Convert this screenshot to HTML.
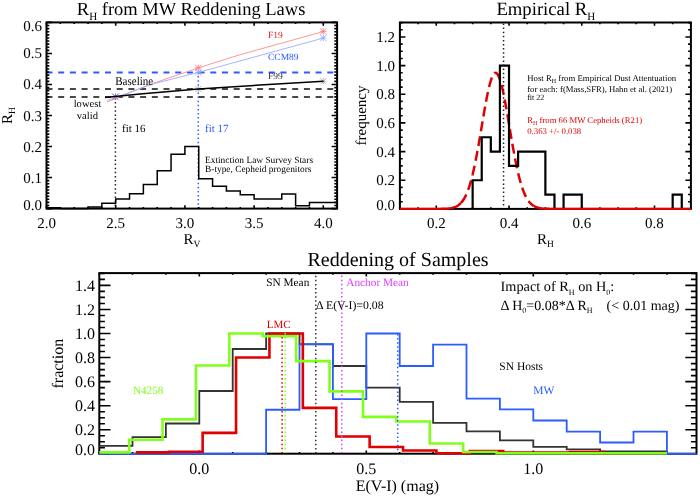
<!DOCTYPE html>
<html><head><meta charset="utf-8"><style>
html,body{margin:0;padding:0;background:#fff;}
svg{display:block;filter:blur(0.35px);}
text{font-family:"Liberation Serif", serif;text-rendering:geometricPrecision;}
</style></head><body>
<svg width="700" height="496" viewBox="0 0 700 496">
<rect width="700" height="496" fill="#fff"/>
<line x1="46.5" y1="72.38" x2="337.1" y2="72.38" stroke="#2a5cff" stroke-width="2" stroke-dasharray="6 5.7"/>
<line x1="46.5" y1="88.9" x2="337.1" y2="88.9" stroke="#484848" stroke-width="2" stroke-dasharray="6 5.7"/>
<line x1="46.5" y1="97.1" x2="337.1" y2="97.1" stroke="#484848" stroke-width="2" stroke-dasharray="6 5.7"/>
<line x1="115.4" y1="98" x2="115.4" y2="208" stroke="#222" stroke-width="1.5" stroke-dasharray="1.5 2.6"/>
<line x1="198.3" y1="72" x2="198.3" y2="208" stroke="#2a5cff" stroke-width="1.5" stroke-dasharray="1.5 2.6"/>
<path d="M112.1 93.5L118.7 100.1M112.1 100.1L118.7 93.5M115.4 93.5V100.1M112.1 96.8H118.7" stroke="#3050e0" stroke-width="0.8" opacity="1" fill="none"/>
<path d="M112.4 93.8L118.4 99.8M112.4 99.8L118.4 93.8M115.4 93.8V99.8M112.4 96.8H118.4" stroke="#ff6070" stroke-width="0.6" opacity="0.5" fill="none"/>
<path d="M195.1 64.6L201.5 71M195.1 71L201.5 64.6M198.3 64.6V71M195.1 67.8H201.5" stroke="#ff6060" stroke-width="0.7" opacity="1" fill="none"/>
<path d="M195.1 69.2L201.5 75.6M195.1 75.6L201.5 69.2M198.3 69.2V75.6M195.1 72.4H201.5" stroke="#7f9cff" stroke-width="0.7" opacity="1" fill="none"/>
<path d="M195.1 85.9L201.5 92.3M195.1 92.3L201.5 85.9M198.3 85.9V92.3M195.1 89.1H201.5" stroke="#999" stroke-width="0.7" opacity="1" fill="none"/>
<path d="M320.1 28.2L326.5 34.6M320.1 34.6L326.5 28.2M323.3 28.2V34.6M320.1 31.4H326.5" stroke="#ff6060" stroke-width="0.7" opacity="1" fill="none"/>
<path d="M320.1 34.8L326.5 41.2M320.1 41.2L326.5 34.8M323.3 34.8V41.2M320.1 38H326.5" stroke="#7f9cff" stroke-width="0.7" opacity="1" fill="none"/>
<path d="M320.1 78.1L326.5 84.5M320.1 84.5L326.5 78.1M323.3 78.1V84.5M320.1 81.3H326.5" stroke="#999" stroke-width="0.7" opacity="1" fill="none"/>
<polyline points="106.9,102.1 140,88.4 151,84.1 198.3,67.9 240,54.7 323.5,31.5" fill="none" stroke="#ff8a8a" stroke-width="0.9" />
<polyline points="106.9,100.6 140,88.6 151,84.4 198.3,72.4 323.5,38" fill="none" stroke="#98adff" stroke-width="0.9" />
<polyline points="105.1,97.4 140,93.9 198.3,89.1 260,85 323.5,81.3" fill="none" stroke="#000" stroke-width="1.5" />
<polyline points="46.5,207.67 60.34,207.67 60.34,208.6 74.18,208.6 74.18,208.6 88.02,208.6 88.02,207.05 101.86,207.05 101.86,203.32 115.7,203.32 115.7,198.98 129.54,198.98 129.54,193.71 143.38,193.71 143.38,184.4 157.22,184.4 157.22,170.74 171.06,170.74 171.06,154.3 184.9,154.3 184.9,146.54 198.74,146.54 198.74,178.81 212.58,178.81 212.58,186.26 226.42,186.26 226.42,190.91 240.26,190.91 240.26,194.64 254.1,194.64 254.1,198.98 267.94,198.98 267.94,198.98 281.78,198.98 281.78,194.02 295.62,194.02 295.62,205.81 309.46,205.81 309.46,202.39 323.3,202.39 323.3,202.39 337.14,202.39 337.1,202.39" fill="none" stroke="#000" stroke-width="1.5" />
<rect x="46.5" y="22.4" width="290.6" height="186.2" fill="none" stroke="#000" stroke-width="2"/>
<path d="M46.5 208.6v-3.3M46.5 22.4v3.3M115.7 208.6v-3.3M115.7 22.4v3.3M184.9 208.6v-3.3M184.9 22.4v3.3M254.1 208.6v-3.3M254.1 22.4v3.3M323.3 208.6v-3.3M323.3 22.4v3.3M60.34 208.6v-1.7M60.34 22.4v1.7M74.18 208.6v-1.7M74.18 22.4v1.7M88.02 208.6v-1.7M88.02 22.4v1.7M101.86 208.6v-1.7M101.86 22.4v1.7M129.54 208.6v-1.7M129.54 22.4v1.7M143.38 208.6v-1.7M143.38 22.4v1.7M157.22 208.6v-1.7M157.22 22.4v1.7M171.06 208.6v-1.7M171.06 22.4v1.7M198.74 208.6v-1.7M198.74 22.4v1.7M212.58 208.6v-1.7M212.58 22.4v1.7M226.42 208.6v-1.7M226.42 22.4v1.7M240.26 208.6v-1.7M240.26 22.4v1.7M267.94 208.6v-1.7M267.94 22.4v1.7M281.78 208.6v-1.7M281.78 22.4v1.7M295.62 208.6v-1.7M295.62 22.4v1.7M309.46 208.6v-1.7M309.46 22.4v1.7M337.14 208.6v-1.7M337.14 22.4v1.7M46.5 208.6h5.5M337.1 208.6h-5.5M46.5 177.57h5.5M337.1 177.57h-5.5M46.5 146.54h5.5M337.1 146.54h-5.5M46.5 115.51h5.5M337.1 115.51h-5.5M46.5 84.48h5.5M337.1 84.48h-5.5M46.5 53.45h5.5M337.1 53.45h-5.5M46.5 22.42h5.5M337.1 22.42h-5.5M46.5 205.5h2.8M337.1 205.5h-2.8M46.5 202.39h2.8M337.1 202.39h-2.8M46.5 199.29h2.8M337.1 199.29h-2.8M46.5 196.19h2.8M337.1 196.19h-2.8M46.5 193.08h2.8M337.1 193.08h-2.8M46.5 189.98h2.8M337.1 189.98h-2.8M46.5 186.88h2.8M337.1 186.88h-2.8M46.5 183.78h2.8M337.1 183.78h-2.8M46.5 180.67h2.8M337.1 180.67h-2.8M46.5 174.47h2.8M337.1 174.47h-2.8M46.5 171.36h2.8M337.1 171.36h-2.8M46.5 168.26h2.8M337.1 168.26h-2.8M46.5 165.16h2.8M337.1 165.16h-2.8M46.5 162.06h2.8M337.1 162.06h-2.8M46.5 158.95h2.8M337.1 158.95h-2.8M46.5 155.85h2.8M337.1 155.85h-2.8M46.5 152.75h2.8M337.1 152.75h-2.8M46.5 149.64h2.8M337.1 149.64h-2.8M46.5 143.44h2.8M337.1 143.44h-2.8M46.5 140.33h2.8M337.1 140.33h-2.8M46.5 137.23h2.8M337.1 137.23h-2.8M46.5 134.13h2.8M337.1 134.13h-2.8M46.5 131.02h2.8M337.1 131.02h-2.8M46.5 127.92h2.8M337.1 127.92h-2.8M46.5 124.82h2.8M337.1 124.82h-2.8M46.5 121.72h2.8M337.1 121.72h-2.8M46.5 118.61h2.8M337.1 118.61h-2.8M46.5 112.41h2.8M337.1 112.41h-2.8M46.5 109.3h2.8M337.1 109.3h-2.8M46.5 106.2h2.8M337.1 106.2h-2.8M46.5 103.1h2.8M337.1 103.1h-2.8M46.5 99.99h2.8M337.1 99.99h-2.8M46.5 96.89h2.8M337.1 96.89h-2.8M46.5 93.79h2.8M337.1 93.79h-2.8M46.5 90.69h2.8M337.1 90.69h-2.8M46.5 87.58h2.8M337.1 87.58h-2.8M46.5 81.38h2.8M337.1 81.38h-2.8M46.5 78.27h2.8M337.1 78.27h-2.8M46.5 75.17h2.8M337.1 75.17h-2.8M46.5 72.07h2.8M337.1 72.07h-2.8M46.5 68.96h2.8M337.1 68.96h-2.8M46.5 65.86h2.8M337.1 65.86h-2.8M46.5 62.76h2.8M337.1 62.76h-2.8M46.5 59.66h2.8M337.1 59.66h-2.8M46.5 56.55h2.8M337.1 56.55h-2.8M46.5 50.35h2.8M337.1 50.35h-2.8M46.5 47.24h2.8M337.1 47.24h-2.8M46.5 44.14h2.8M337.1 44.14h-2.8M46.5 41.04h2.8M337.1 41.04h-2.8M46.5 37.93h2.8M337.1 37.93h-2.8M46.5 34.83h2.8M337.1 34.83h-2.8M46.5 31.73h2.8M337.1 31.73h-2.8M46.5 28.63h2.8M337.1 28.63h-2.8M46.5 25.52h2.8M337.1 25.52h-2.8" stroke="#000" stroke-width="1.6" fill="none"/>
<g font-family='"Liberation Serif", serif'>
<text id="A_title" transform="translate(76.8 14.6)" font-size="18.5" fill="#000" text-anchor="start" >R<tspan font-size="11" dy="5">H</tspan><tspan dy="-5"> from MW Reddening Laws</tspan></text>
<text id="A_y0.0" transform="translate(42 209.8)" font-size="15" fill="#000" text-anchor="end" >0.0</text>
<text id="A_y0.1" transform="translate(42 182.57)" font-size="15" fill="#000" text-anchor="end" >0.1</text>
<text id="A_y0.2" transform="translate(42 151.54)" font-size="15" fill="#000" text-anchor="end" >0.2</text>
<text id="A_y0.3" transform="translate(42 120.51)" font-size="15" fill="#000" text-anchor="end" >0.3</text>
<text id="A_y0.4" transform="translate(42 89.48)" font-size="15" fill="#000" text-anchor="end" >0.4</text>
<text id="A_y0.5" transform="translate(42 58.45)" font-size="15" fill="#000" text-anchor="end" >0.5</text>
<text id="A_y0.6" transform="translate(42 31.22)" font-size="15" fill="#000" text-anchor="end" >0.6</text>
<text id="A_x2.0" transform="translate(46.5 227.7)" font-size="15" fill="#000" text-anchor="middle" >2.0</text>
<text id="A_x2.5" transform="translate(115.7 227.7)" font-size="15" fill="#000" text-anchor="middle" >2.5</text>
<text id="A_x3.0" transform="translate(184.9 227.7)" font-size="15" fill="#000" text-anchor="middle" >3.0</text>
<text id="A_x3.5" transform="translate(254.1 227.7)" font-size="15" fill="#000" text-anchor="middle" >3.5</text>
<text id="A_x4.0" transform="translate(323.3 227.7)" font-size="15" fill="#000" text-anchor="middle" >4.0</text>
<text id="A_xt" transform="translate(183.5 243.7)" font-size="15" fill="#000" text-anchor="start" >R<tspan font-size="9.5" dy="3">V</tspan></text>
<text id="A_yt" transform="translate(12 124) rotate(-90)" font-size="15" fill="#000" text-anchor="start" >R<tspan font-size="9.5" dy="3">H</tspan></text>
<text id="A_base" transform="translate(115.2 85) scale(0.92 1)" font-size="12" fill="#000" text-anchor="start" >Baseline</text>
<text id="A_low" transform="translate(87.5 107.3)" font-size="10.6" fill="#000" text-anchor="middle" >lowest</text>
<text id="A_valid" transform="translate(87.4 119.1)" font-size="10.6" fill="#000" text-anchor="middle" >valid</text>
<text id="A_f19" transform="translate(268 37.7)" font-size="9.5" fill="#e02020" text-anchor="start" >F19</text>
<text id="A_ccm" transform="translate(268 60)" font-size="9.5" fill="#2a5cff" text-anchor="start" >CCM89</text>
<text id="A_f99" transform="translate(268 78.5)" font-size="9.5" fill="#333" text-anchor="start" >F99</text>
<text id="A_fit16" transform="translate(122 132)" font-size="11" fill="#000" text-anchor="start" >fit 16</text>
<text id="A_fit17" transform="translate(205 132)" font-size="11" fill="#2a5cff" text-anchor="start" >fit 17</text>
<text id="A_ext1" transform="translate(205 162.9)" font-size="9.4" fill="#000" text-anchor="start" >Extinction Law Survey Stars</text>
<text id="A_ext2" transform="translate(205 172)" font-size="9.4" fill="#000" text-anchor="start" >B-type, Cepheid progenitors</text>
</g>
<rect x="399.9" y="22.5" width="291" height="186.4" fill="none" stroke="#000" stroke-width="2"/>
<path d="M436.27 208.9v-3.3M436.27 22.5v3.3M509.01 208.9v-3.3M509.01 22.5v3.3M581.75 208.9v-3.3M581.75 22.5v3.3M654.49 208.9v-3.3M654.49 22.5v3.3M399.9 208.9v-1.7M399.9 22.5v1.7M418.08 208.9v-1.7M418.08 22.5v1.7M454.45 208.9v-1.7M454.45 22.5v1.7M472.64 208.9v-1.7M472.64 22.5v1.7M490.82 208.9v-1.7M490.82 22.5v1.7M527.2 208.9v-1.7M527.2 22.5v1.7M545.38 208.9v-1.7M545.38 22.5v1.7M563.57 208.9v-1.7M563.57 22.5v1.7M599.93 208.9v-1.7M599.93 22.5v1.7M618.12 208.9v-1.7M618.12 22.5v1.7M636.3 208.9v-1.7M636.3 22.5v1.7M672.67 208.9v-1.7M672.67 22.5v1.7M690.86 208.9v-1.7M690.86 22.5v1.7M399.9 208.9h5.5M690.9 208.9h-5.5M399.9 180.24h5.5M690.9 180.24h-5.5M399.9 151.58h5.5M690.9 151.58h-5.5M399.9 122.92h5.5M690.9 122.92h-5.5M399.9 94.26h5.5M690.9 94.26h-5.5M399.9 65.6h5.5M690.9 65.6h-5.5M399.9 36.94h5.5M690.9 36.94h-5.5M399.9 201.74h2.8M690.9 201.74h-2.8M399.9 194.57h2.8M690.9 194.57h-2.8M399.9 187.41h2.8M690.9 187.41h-2.8M399.9 173.07h2.8M690.9 173.07h-2.8M399.9 165.91h2.8M690.9 165.91h-2.8M399.9 158.75h2.8M690.9 158.75h-2.8M399.9 144.41h2.8M690.9 144.41h-2.8M399.9 137.25h2.8M690.9 137.25h-2.8M399.9 130.08h2.8M690.9 130.08h-2.8M399.9 115.75h2.8M690.9 115.75h-2.8M399.9 108.59h2.8M690.9 108.59h-2.8M399.9 101.42h2.8M690.9 101.42h-2.8M399.9 87.09h2.8M690.9 87.09h-2.8M399.9 79.93h2.8M690.9 79.93h-2.8M399.9 72.76h2.8M690.9 72.76h-2.8M399.9 58.43h2.8M690.9 58.43h-2.8M399.9 51.27h2.8M690.9 51.27h-2.8M399.9 44.1h2.8M690.9 44.1h-2.8M399.9 29.78h2.8M690.9 29.78h-2.8M399.9 22.61h2.8M690.9 22.61h-2.8" stroke="#000" stroke-width="1.6" fill="none"/>
<polyline points="399.9,208.9 401.35,208.9 402.81,208.9 404.26,208.9 405.72,208.9 407.17,208.9 408.63,208.9 410.08,208.9 411.54,208.9 412.99,208.9 414.45,208.9 415.9,208.9 417.36,208.9 418.81,208.9 420.27,208.9 421.72,208.9 423.18,208.9 424.63,208.9 426.09,208.9 427.54,208.9 429,208.9 430.45,208.9 431.91,208.9 433.36,208.89 434.82,208.89 436.27,208.89 437.72,208.88 439.18,208.87 440.63,208.85 442.09,208.82 443.54,208.79 445,208.73 446.45,208.65 447.91,208.54 449.36,208.39 450.82,208.18 452.27,207.89 453.73,207.5 455.18,206.99 456.64,206.32 458.09,205.44 459.55,204.33 461,202.92" fill="none" stroke="#e00000" stroke-width="2.4" />
<polyline points="461,202.92 462.46,201.16 463.91,199 465.37,196.37 466.82,193.22 468.28,189.49 469.73,185.14 471.19,180.13 472.64,174.46 474.09,168.11 475.55,161.14 477,153.59 478.46,145.54 479.91,137.13 481.37,128.5 482.82,119.83 484.28,111.3 485.73,103.13 487.19,95.55 488.64,88.76 490.1,82.97 491.55,78.35 493.01,75.06 494.46,73.19 495.92,72.81 497.37,73.94 498.83,76.53 500.28,80.5 501.74,85.73 503.19,92.04 504.65,99.26 506.1,107.16 507.56,115.53 509.01,124.16 510.46,132.84 511.92,141.38 513.37,149.62 514.83,157.43 516.28,164.7 517.74,171.37 519.19,177.38 520.65,182.72 522.1,187.39 523.56,191.43 525.01,194.86 526.47,197.74 527.92,200.13 529.38,202.09 530.83,203.66 532.29,204.92 533.74,205.91" fill="none" stroke="#e00000" stroke-width="2.5" stroke-dasharray="10 5"/>
<polyline points="533.74,205.91 535.2,206.68 536.65,207.26 538.11,207.71 539.56,208.04 541.02,208.29 542.47,208.47 543.93,208.6 545.38,208.7 546.83,208.76 548.29,208.81 549.74,208.84 551.2,208.86 552.65,208.87 554.11,208.88 555.56,208.89 557.02,208.89 558.47,208.9 559.93,208.9 561.38,208.9 562.84,208.9 564.29,208.9 565.75,208.9 567.2,208.9 568.66,208.9 570.11,208.9 571.57,208.9 573.02,208.9 574.48,208.9 575.93,208.9 577.39,208.9 578.84,208.9 580.3,208.9 581.75,208.9 583.2,208.9 584.66,208.9 586.11,208.9 587.57,208.9 589.02,208.9 590.48,208.9 591.93,208.9 593.39,208.9 594.84,208.9 596.3,208.9 597.75,208.9 599.21,208.9 600.66,208.9 602.12,208.9 603.57,208.9 605.03,208.9 606.48,208.9 607.94,208.9 609.39,208.9 610.85,208.9 612.3,208.9 613.76,208.9 615.21,208.9 616.67,208.9 618.12,208.9 619.57,208.9 621.03,208.9 622.48,208.9 623.94,208.9 625.39,208.9 626.85,208.9 628.3,208.9 629.76,208.9 631.21,208.9 632.67,208.9 634.12,208.9 635.58,208.9 637.03,208.9 638.49,208.9 639.94,208.9 641.4,208.9 642.85,208.9 644.31,208.9 645.76,208.9 647.22,208.9 648.67,208.9 650.13,208.9 651.58,208.9 653.04,208.9 654.49,208.9 655.94,208.9 657.4,208.9 658.85,208.9 660.31,208.9 661.76,208.9 663.22,208.9 664.67,208.9 666.13,208.9 667.58,208.9 669.04,208.9 670.49,208.9 671.95,208.9 673.4,208.9 674.86,208.9 676.31,208.9 677.77,208.9 679.22,208.9 680.68,208.9 682.13,208.9 683.59,208.9 685.04,208.9 686.5,208.9 687.95,208.9 689.41,208.9 690.86,208.9" fill="none" stroke="#e00000" stroke-width="2.4" />
<polyline points="472.64,207.9 472.64,180.24 481.73,180.24 481.73,137.25 490.82,137.25 490.82,151.58 499.92,151.58 499.92,65.6 509.01,65.6 509.01,165.91 518.1,165.91 518.1,151.58 545.38,151.58 545.38,194.57 554.47,194.57 554.47,207.9" fill="none" stroke="#000" stroke-width="2.2" />
<polyline points="563.57,207.9 563.57,194.57 581.75,194.57 581.75,207.9" fill="none" stroke="#000" stroke-width="2.2" />
<polyline points="672.67,207.9 672.67,194.57 681.77,194.57 681.77,207.9" fill="none" stroke="#000" stroke-width="2.2" />
<line x1="503.55" y1="23.5" x2="503.55" y2="208" stroke="#222" stroke-width="1.5" stroke-dasharray="1.5 2.6"/>
<g font-family='"Liberation Serif", serif'>
<text id="B_title" transform="translate(496.4 15)" font-size="18.7" fill="#000" text-anchor="start" >Empirical R<tspan font-size="11" dy="5">H</tspan></text>
<text id="B_y0.0" transform="translate(395 210.1)" font-size="15" fill="#000" text-anchor="end" >0.0</text>
<text id="B_y0.2" transform="translate(395 185.24)" font-size="15" fill="#000" text-anchor="end" >0.2</text>
<text id="B_y0.4" transform="translate(395 156.58)" font-size="15" fill="#000" text-anchor="end" >0.4</text>
<text id="B_y0.6" transform="translate(395 127.92)" font-size="15" fill="#000" text-anchor="end" >0.6</text>
<text id="B_y0.8" transform="translate(395 99.26)" font-size="15" fill="#000" text-anchor="end" >0.8</text>
<text id="B_y1.0" transform="translate(395 70.6)" font-size="15" fill="#000" text-anchor="end" >1.0</text>
<text id="B_y1.2" transform="translate(395 41.94)" font-size="15" fill="#000" text-anchor="end" >1.2</text>
<text id="B_x0.2" transform="translate(436.27 227.7)" font-size="15" fill="#000" text-anchor="middle" >0.2</text>
<text id="B_x0.4" transform="translate(509.01 227.7)" font-size="15" fill="#000" text-anchor="middle" >0.4</text>
<text id="B_x0.6" transform="translate(581.75 227.7)" font-size="15" fill="#000" text-anchor="middle" >0.6</text>
<text id="B_x0.8" transform="translate(654.49 227.7)" font-size="15" fill="#000" text-anchor="middle" >0.8</text>
<text id="B_xt" transform="translate(537 243.7)" font-size="15" fill="#000" text-anchor="start" >R<tspan font-size="9.5" dy="3">H</tspan></text>
<text id="B_yt" transform="translate(366 145.5) rotate(-90)" font-size="15" fill="#000" text-anchor="start" >frequency</text>
<text id="B_t1" transform="translate(527.2 80.5)" font-size="8.75" fill="#000" text-anchor="start" >Host R<tspan font-size="6" dy="2">H</tspan><tspan dy="-2"> from Empirical Dust Attentuation</tspan></text>
<text id="B_t2" transform="translate(527.2 91.5)" font-size="8.7" fill="#000" text-anchor="start" >for each: f(Mass,SFR), Hahn et al. (2021)</text>
<text id="B_t3" transform="translate(527.2 100.1)" font-size="8" fill="#000" text-anchor="start" >fit 22</text>
<text id="B_t4" transform="translate(527.2 123.4)" font-size="8.7" fill="#e00000" text-anchor="start" >R<tspan font-size="6" dy="2">H</tspan><tspan dy="-2"> from 66 MW Cepheids (R21)</tspan></text>
<text id="B_t5" transform="translate(527.2 133.6)" font-size="8.75" fill="#e00000" text-anchor="start" >0.363 +/- 0.038</text>
</g>
<rect x="99.3" y="273.1" width="597.2" height="180.6" fill="none" stroke="#000" stroke-width="2"/>
<path d="M199.3 453.7v-3.3M199.3 273.1v3.3M366.3 453.7v-3.3M366.3 273.1v3.3M533.3 453.7v-3.3M533.3 273.1v3.3M99.1 453.7v-1.7M99.1 273.1v1.7M132.5 453.7v-1.7M132.5 273.1v1.7M165.9 453.7v-1.7M165.9 273.1v1.7M232.7 453.7v-1.7M232.7 273.1v1.7M266.1 453.7v-1.7M266.1 273.1v1.7M299.5 453.7v-1.7M299.5 273.1v1.7M332.9 453.7v-1.7M332.9 273.1v1.7M399.7 453.7v-1.7M399.7 273.1v1.7M433.1 453.7v-1.7M433.1 273.1v1.7M466.5 453.7v-1.7M466.5 273.1v1.7M499.9 453.7v-1.7M499.9 273.1v1.7M566.7 453.7v-1.7M566.7 273.1v1.7M600.1 453.7v-1.7M600.1 273.1v1.7M633.5 453.7v-1.7M633.5 273.1v1.7M666.9 453.7v-1.7M666.9 273.1v1.7M99.3 453.8h11.2M696.5 453.8h-11.2M99.3 429.74h11.2M696.5 429.74h-11.2M99.3 405.68h11.2M696.5 405.68h-11.2M99.3 381.62h11.2M696.5 381.62h-11.2M99.3 357.56h11.2M696.5 357.56h-11.2M99.3 333.5h11.2M696.5 333.5h-11.2M99.3 309.44h11.2M696.5 309.44h-11.2M99.3 285.38h11.2M696.5 285.38h-11.2M99.3 447.79h5.6M696.5 447.79h-5.6M99.3 441.77h5.6M696.5 441.77h-5.6M99.3 435.75h5.6M696.5 435.75h-5.6M99.3 423.73h5.6M696.5 423.73h-5.6M99.3 417.71h5.6M696.5 417.71h-5.6M99.3 411.69h5.6M696.5 411.69h-5.6M99.3 399.67h5.6M696.5 399.67h-5.6M99.3 393.65h5.6M696.5 393.65h-5.6M99.3 387.63h5.6M696.5 387.63h-5.6M99.3 375.61h5.6M696.5 375.61h-5.6M99.3 369.59h5.6M696.5 369.59h-5.6M99.3 363.58h5.6M696.5 363.58h-5.6M99.3 351.55h5.6M696.5 351.55h-5.6M99.3 345.53h5.6M696.5 345.53h-5.6M99.3 339.51h5.6M696.5 339.51h-5.6M99.3 327.49h5.6M696.5 327.49h-5.6M99.3 321.47h5.6M696.5 321.47h-5.6M99.3 315.46h5.6M696.5 315.46h-5.6M99.3 303.43h5.6M696.5 303.43h-5.6M99.3 297.41h5.6M696.5 297.41h-5.6M99.3 291.39h5.6M696.5 291.39h-5.6M99.3 279.37h5.6M696.5 279.37h-5.6M99.3 273.35h5.6M696.5 273.35h-5.6" stroke="#000" stroke-width="1.6" fill="none"/>
<polyline points="99.3,445.86 132.5,445.86 132.5,437.08 165.9,437.08 165.9,423.48 199.3,423.48 199.3,391 232.7,391 232.7,349.02 266.1,349.02 266.1,333.5 299.5,333.5 299.5,344.33 332.9,344.33 332.9,365.98 366.3,365.98 366.3,387.63 399.7,387.63 399.7,401.83 433.1,401.83 433.1,422.88 466.5,422.88 466.5,431.42 499.9,431.42 499.9,440.45 533.3,440.45 533.3,446.94 566.7,446.94 566.7,449.35 600.1,449.35 600.1,451.39 633.5,451.39 633.5,451.39 666.9,451.39 666.9,453.8 696.5,453.8" fill="none" stroke="#333" stroke-width="1.8" />
<polyline points="99.3,453.8 132.5,453.8 132.5,453.8 165.9,453.8 165.9,453.8 199.3,453.8 199.3,453.8 232.7,453.8 232.7,453.8 266.1,453.8 266.1,409.77 299.5,409.77 299.5,344.21 332.9,344.21 332.9,399.06 366.3,399.06 366.3,333.5 399.7,333.5 399.7,365.98 433.1,365.98 433.1,344.57 466.5,344.57 466.5,398.58 499.9,398.58 499.9,409.29 533.3,409.29 533.3,420.48 566.7,420.48 566.7,431.54 600.1,431.54 600.1,442.49 633.5,442.49 633.5,431.54 666.9,431.54 666.9,453.8 696.5,453.8" fill="none" stroke="#2a5cff" stroke-width="1.8" />
<polyline points="135.84,452.36 169.24,452.36 169.24,451.75 202.64,451.75 202.64,432.87 236.04,432.87 236.04,357.56 269.44,357.56 269.44,333.5 302.84,333.5 302.84,407.85 336.24,407.85 336.24,436.48 369.64,436.48 369.64,446.94 403.04,446.94 403.04,450.43 436.44,450.43 436.44,453.2 469.84,453.2 469.84,451.03 503.24,451.03 503.24,452.6 536.64,452.6 536.64,452.6 570.04,452.6 570.04,452 603.44,452 603.44,453.2 610,453.2" fill="none" stroke="#e00000" stroke-width="2.6" />
<polyline points="99.3,452.36 129.16,452.36 129.16,439.72 162.56,439.72 162.56,419.39 195.96,419.39 195.96,365.5 229.36,365.5 229.36,333.5 262.76,333.5 262.76,336.27 296.16,336.27 296.16,361.17 329.56,361.17 329.56,391.36 362.96,391.36 362.96,416.87 396.36,416.87 396.36,421.56 429.76,421.56 429.76,443.57 463.16,443.57 463.16,452 496.56,452 496.56,453.2 529.96,453.2 529.96,453.2 563.36,453.2 563.36,453.2 596.76,453.2 596.76,453.2 630.16,453.2 630.16,453.2 663.56,453.2 663.56,453.2 666.9,453.2" fill="none" stroke="#80ff1a" stroke-width="2.6" />
<line x1="282.1" y1="333" x2="282.1" y2="453" stroke="#e00000" stroke-width="1.5" stroke-dasharray="1.5 2.6"/>
<line x1="285.2" y1="333" x2="285.2" y2="453" stroke="#80ff1a" stroke-width="1.5" stroke-dasharray="1.5 2.6"/>
<line x1="315.8" y1="275.7" x2="315.8" y2="453" stroke="#333" stroke-width="1.5" stroke-dasharray="1.5 2.6"/>
<line x1="341.8" y1="275.6" x2="341.8" y2="453" stroke="#e040ff" stroke-width="1.5" stroke-dasharray="1.5 2.6"/>
<line x1="397.7" y1="334" x2="397.7" y2="453" stroke="#2a5cff" stroke-width="1.5" stroke-dasharray="1.5 2.6"/>
<g font-family='"Liberation Serif", serif'>
<text id="C_title" transform="translate(398 265.6)" font-size="20" fill="#000" text-anchor="middle" >Reddening of Samples</text>
<text id="C_y0.0" transform="translate(95 455.3)" font-size="16" fill="#000" text-anchor="end" >0.0</text>
<text id="C_y0.2" transform="translate(95 435.24)" font-size="16" fill="#000" text-anchor="end" >0.2</text>
<text id="C_y0.4" transform="translate(95 411.18)" font-size="16" fill="#000" text-anchor="end" >0.4</text>
<text id="C_y0.6" transform="translate(95 387.12)" font-size="16" fill="#000" text-anchor="end" >0.6</text>
<text id="C_y0.8" transform="translate(95 363.06)" font-size="16" fill="#000" text-anchor="end" >0.8</text>
<text id="C_y1.0" transform="translate(95 339)" font-size="16" fill="#000" text-anchor="end" >1.0</text>
<text id="C_y1.2" transform="translate(95 314.94)" font-size="16" fill="#000" text-anchor="end" >1.2</text>
<text id="C_y1.4" transform="translate(95 290.88)" font-size="16" fill="#000" text-anchor="end" >1.4</text>
<text id="C_x0.0" transform="translate(199.3 474.3)" font-size="16" fill="#000" text-anchor="middle" >0.0</text>
<text id="C_x0.5" transform="translate(366.3 474.3)" font-size="16" fill="#000" text-anchor="middle" >0.5</text>
<text id="C_x1.0" transform="translate(533.3 474.3)" font-size="16" fill="#000" text-anchor="middle" >1.0</text>
<text id="C_xt" transform="translate(355.7 491.4)" font-size="16" fill="#000" text-anchor="start" >E(V-I) (mag)</text>
<text id="C_yt" transform="translate(62.6 388.5) rotate(-90)" font-size="16" fill="#000" text-anchor="start" >fraction</text>
<text id="C_snmean" transform="translate(266.3 285.7)" font-size="11.3" fill="#000" text-anchor="start" >SN Mean</text>
<text id="C_anchor" transform="translate(346.3 285.9)" font-size="11.3" fill="#e040ff" text-anchor="start" >Anchor Mean</text>
<text id="C_dE" transform="translate(316.1 309.4)" font-size="11.8" fill="#000" text-anchor="start" >&#916; E(V-I)=0.08</text>
<text id="C_lmc" transform="translate(266.7 327.7)" font-size="11" fill="#e00000" text-anchor="start" >LMC</text>
<text id="C_n4258" transform="translate(132.9 393.9)" font-size="11.2" fill="#80ff1a" text-anchor="start" >N4258</text>
<text id="C_snhosts" transform="translate(499.3 369.9)" font-size="11.5" fill="#000" text-anchor="start" >SN Hosts</text>
<text id="C_mw" transform="translate(533.2 393.5)" font-size="11.5" fill="#2a5cff" text-anchor="start" >MW</text>
<text id="C_imp1" transform="translate(500.5 291.4)" font-size="14.3" fill="#000" text-anchor="start" >Impact of R<tspan font-size="8" dy="3.3">H</tspan><tspan dy="-3.3"> on H</tspan><tspan font-size="8" dy="3.3">0</tspan><tspan dy="-3.3">:</tspan></text>
<text id="C_imp2" transform="translate(500.5 309.6)" font-size="14" fill="#000" text-anchor="start" xml:space="preserve">&#916; H<tspan font-size="8" dy="3.3">0</tspan><tspan dy="-3.3">=0.08*&#916; R</tspan><tspan font-size="8" dy="3.3">H</tspan><tspan dy="-3.3">    (&lt; 0.01 mag)</tspan></text>
</g>
</svg>
</body></html>
